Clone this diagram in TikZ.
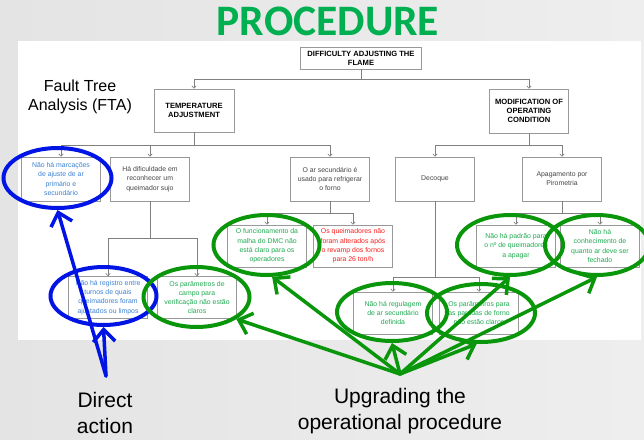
\documentclass[tikz,border=0pt]{standalone}
\usepackage{fontspec}
\setmainfont{Liberation Sans}
\newfontfamily\titlefont{Carlito}
\usetikzlibrary{arrows.meta,shapes.geometric}

\definecolor{bggray}{RGB}{228,228,228}
\definecolor{bglight}{RGB}{238,238,238}
\definecolor{linegray}{RGB}{128,128,128}
\definecolor{txtgray}{RGB}{70,70,70}
\definecolor{txtblue}{RGB}{60,130,210}
\definecolor{txtgreen}{RGB}{30,170,80}
\definecolor{txtred}{RGB}{250,30,30}
\definecolor{markgreen}{RGB}{10,150,10}
\definecolor{markblue}{RGB}{0,20,230}
\definecolor{titlegreen}{RGB}{0,176,80}

\begin{document}
\begin{tikzpicture}[
		x=1pt, y=-1pt,
		every node/.style={inner sep=1pt, align=center},
		ftbox/.style={rectangle, draw=linegray!80, fill=white, line width=0.5pt, minimum width=79pt, minimum height=42pt, font=\fontsize{6.9}{9.3}\selectfont, text=txtgray},
		topbox/.style={ftbox, font=\fontsize{7.6}{9}\selectfont\bfseries, text=black},
		conn/.style={draw=linegray, line width=0.6pt, -{Straight Barb[length=2.5pt,width=4.5pt]}},
		ring/.style={ellipse, draw, line width=4pt, inner sep=0pt},
		pointer/.style={line width=3.5pt, line cap=round, -{Straight Barb[length=12pt,width=22pt]}},
		bigtext/.style={font=\fontsize{21}{26}\selectfont}
	]
  \useasboundingbox (0,0) rectangle (644,439);
  \shade [left color=bggray, right color=bglight] (0,0) rectangle (644,439);
  \fill [white] (18,41) rectangle (641,340);

  \node (title) [anchor=base, font={\titlefont\bfseries\fontsize{43.5}{50}\selectfont}, text=titlegreen] at (328,35) {PROCEDURE};
  \node (fta) [font=\fontsize{16}{19}\selectfont] at (80,97) {Fault Tree\\Analysis (FTA)};

  \node (top) [topbox, minimum width=121pt, minimum height=22pt] at (361,58) {DIFFICULTY ADJUSTING THE\\FLAME};
  \node (temp) [topbox, minimum width=80pt, minimum height=43pt] at (194,110.5) {TEMPERATURE\\ADJUSTMENT};
  \node (modif) [topbox, minimum height=44pt] at (529,111) {MODIFICATION OF\\OPERATING\\CONDITION};

  \node (marc) [ftbox, text=txtblue, minimum height=44pt] at (61,179) {Não há marcações\\de ajuste de ar\\primário e\\secundário};
  \node (dific) [ftbox, minimum height=44pt] at (150,179) {Há dificuldade em\\reconhecer um\\queimador sujo};
  \node (arsec) [ftbox, minimum height=44pt] at (330,179) {O ar secundário é\\usado para refrigerar\\o forno};
  \node (decoq) [ftbox, minimum height=44pt] at (435,179) {Decoque};
  \node (apag) [ftbox, minimum height=44pt] at (562,179) {Apagamento por\\Pirometria};

  \node (regist) [ftbox, text=txtblue] at (108,297.5) {Não há registro entre\\turnos de quais\\queimadores foram\\ajustados ou limpos};
  \node (campo) [ftbox, text=txtgreen] at (197,297.5) {Os parâmetros de\\campo para\\verificação não estão\\claros};
  \node (dmc) [ftbox, text=txtgreen] at (267,246) {O funcionamento da\\malha do DMC não\\está claro para os\\operadores};
  \node (queim) [ftbox, text=txtred] at (353,246) {Os queimadores não\\foram alterados após\\o revamp dos fornos\\para 26 ton/h};
  \node (padrao) [ftbox, text=txtgreen] at (516,246) {Não há padrão para\\o nº de queimadores\\a apagar};
  \node (conhec) [ftbox, text=txtgreen] at (600,246) {Não há\\conhecimento de\\quanto ar deve ser\\fechado};
  \node (regul) [ftbox, text=txtgreen] at (393,313) {Não há regulagem\\de ar secundário\\definida};
  \node (parad) [ftbox, text=txtgreen] at (479,313) {Os parâmetros para\\as paradas de forno\\não estão claros};

  \coordinate (j_top) at (361,79);
  \coordinate (j_temp) at (194,145);
  \coordinate (j_modif) at (529,145);
  \coordinate (j_dific) at (150,238);
  \coordinate (j_arsec) at (330,213);
  \coordinate (j_apag) at (562,213);
  \coordinate (j_decoq) at (435,277);

  \draw [conn, -] (top) -- (j_top);
  \draw [conn] (j_top) -| (temp);
  \draw [conn] (j_top) -| (modif);
  \draw [conn, -] (temp) -- (j_temp);
  \draw [conn] (j_temp) -| (marc);
  \draw [conn] (j_temp) -| (dific);
  \draw [conn] (j_temp) -| (arsec);
  \draw [conn, -] (modif) -- (j_modif);
  \draw [conn] (j_modif) -| (decoq);
  \draw [conn] (j_modif) -| (apag);
  \draw [conn, -] (dific) -- (j_dific);
  \draw [conn] (j_dific) -| (regist);
  \draw [conn] (j_dific) -| (campo);
  \draw [conn, -] (arsec) -- (j_arsec);
  \draw [conn] (j_arsec) -| (dmc);
  \draw [conn] (j_arsec) -| (queim);
  \draw [conn, -] (apag) -- (j_apag);
  \draw [conn] (j_apag) -| (padrao);
  \draw [conn] (j_apag) -| (conhec);
  \draw [conn, -] (decoq) -- (j_decoq);
  \draw [conn] (j_decoq) -| (regul);
  \draw [conn] (j_decoq) -| (parad);

  \node (e_marc) [ring, draw=markblue, minimum width=108pt, minimum height=60pt] at (57.5,178) {};
  \node (e_regist) [ring, draw=markblue, minimum width=106pt, minimum height=58pt] at (103.5,296) {};
  \node (e_campo) [ring, draw=markgreen, minimum width=106pt, minimum height=60pt] at (196.5,297) {};
  \node (e_dmc) [ring, draw=markgreen, minimum width=106pt, minimum height=60pt] at (266.5,245) {};
  \node (e_padrao) [ring, draw=markgreen, minimum width=106pt, minimum height=60pt] at (510,245) {};
  \node (e_conhec) [ring, draw=markgreen, minimum width=104pt, minimum height=60pt] at (597,245) {};
  \node (e_regul) [ring, draw=markgreen, minimum width=110pt, minimum height=58pt] at (392,312) {};
  \node (e_parad) [ring, draw=markgreen, minimum width=108pt, minimum height=58pt] at (481,313) {};

  \coordinate (src_direct) at (106,376);
  \coordinate (src_upgrade) at (400,374);
  \draw [pointer, markblue] (src_direct) -- (e_marc.south);
  \draw [pointer, markblue] (src_direct) -- (e_regist.south);
  \draw [pointer, markgreen] (src_upgrade) -- (e_campo.-29);
  \draw [pointer, markgreen] (src_upgrade) -- (e_dmc.-80);
  \draw [pointer, markgreen] (src_upgrade) -- (e_regul.south);
  \draw [pointer, markgreen] (src_upgrade) -- (e_parad.-98);
  \draw [pointer, markgreen] (src_upgrade) -- (e_padrao.south);
  \draw [pointer, markgreen] (src_upgrade) -- (e_conhec.south);

  \node (direct) [bigtext] at (105,412.5) {Direct\\action};
  \node (upgrade) [bigtext] at (400,411.5) {Upgrading the\\operational procedure};
\end{tikzpicture}
\end{document}
